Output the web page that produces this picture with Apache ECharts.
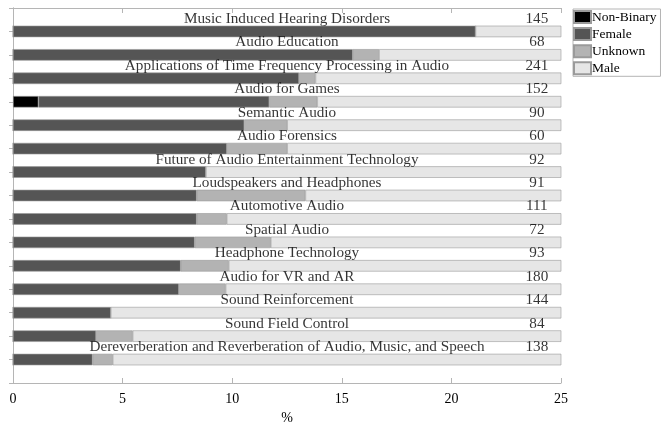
<!DOCTYPE html>
<html><head><meta charset="utf-8">
<script src="https://cdn.jsdelivr.net/npm/echarts@6/dist/echarts.min.js"></script>
<style>html,body{margin:0;padding:0;background:#fff}#c{width:668px;height:423px}</style>
</head><body><div id="c"></div>
<script>
const categories = ['Music Induced Hearing Disorders','Audio Education','Applications of Time Frequency Processing in Audio','Audio for Games','Semantic Audio','Audio Forensics','Future of Audio Entertainment Technology','Loudspeakers and Headphones','Automotive Audio','Spatial Audio','Headphone Technology','Audio for VR and AR','Sound Reinforcement','Sound Field Control','Dereverberation and Reverberation of Audio, Music, and Speech'];
const counts = [145,68,241,152,90,60,92,91,111,72,93,180,144,84,138];
const nonBinary = [0,0,0,1.16,0,0,0,0,0,0,0,0,0,0,0];
const female = [21.1,15.5,13.05,10.53,10.55,9.76,8.8,8.38,8.38,8.29,7.65,7.57,4.46,3.79,3.63];
const unknown = [0,1.2,0.75,2.19,1.96,2.75,0,4.96,1.37,3.47,2.19,2.13,0,1.67,0.92];
const male = [78.9,83.3,86.2,86.12,87.49,87.49,91.2,86.66,90.25,88.24,90.16,90.3,95.54,94.54,95.45];
const xTicks = [0,5,10,15,20,25];

const FONT = 'Liberation Serif';
const pad = a => [null, ...a, null];
const cats = ['', ...categories, ''];
const chart = echarts.init(document.getElementById('c'), null, {renderer:'canvas'});
const frameColor = '#b5b5b5';
const barBorder = '#9a9a9a';
function barSeries(name, data, color){
  return {name, type:'bar', stack:'s', data:pad(data), barWidth:11.5,
    itemStyle:{color, borderColor: barBorder, borderWidth:0.6}, silent:true, animation:false};
}
chart.setOption({
  animation:false,
  textStyle:{fontFamily:FONT},
  grid:{left:13, right:107, top:8, bottom:40, containLabel:false, outerBoundsMode:'none'},
  legend:{
    data:['Non-Binary','Female','Unknown','Male'], orient:'vertical', left:573, top:9,
    itemWidth:17, itemHeight:12, itemGap:3.1, padding:[1,4,1,0],
    textStyle:{fontFamily:FONT, fontSize:13.5, lineHeight:14, color:'#000', padding:[0,0,0,-4]},
    borderColor:'#b5b5b5', borderWidth:1, icon:'rect'
  },
  xAxis:[
    {type:'value', min:0, max:25, interval:5, position:'bottom',
     axisLine:{show:true, lineStyle:{color:frameColor}},
     axisTick:{show:true, inside:true, length:5, lineStyle:{color:frameColor}},
     axisLabel:{color:'#000', fontFamily:FONT, fontSize:14, margin:9},
     splitLine:{show:false},
     name:'%', nameLocation:'middle', nameGap:28, nameTextStyle:{color:'#000', fontFamily:FONT, fontSize:14}},
    {type:'value', min:0, max:25, interval:5, position:'top',
     axisLine:{show:true, lineStyle:{color:frameColor}},
     axisTick:{show:true, inside:true, length:5, lineStyle:{color:frameColor}},
     axisLabel:{show:false}, splitLine:{show:false}}
  ],
  yAxis:[
    {type:'category', data:cats, inverse:true, boundaryGap:false, position:'left',
     axisLine:{show:true, lineStyle:{color:frameColor}},
     axisTick:{show:true, inside:true, length:4, lineStyle:{color:frameColor}},
     axisLabel:{show:false}},
    {type:'category', data:cats, inverse:true, boundaryGap:false, position:'right',
     axisLine:{show:true, lineStyle:{color:frameColor}},
     axisTick:{show:true, inside:true, length:4, lineStyle:{color:frameColor}},
     axisLabel:{show:false}}
  ],
  series:[
    barSeries('Non-Binary', nonBinary, '#000000'),
    barSeries('Female', female, '#555555'),
    barSeries('Unknown', unknown, '#b3b3b3'),
    barSeries('Male', male, '#e6e6e6'),
    {type:'scatter', symbolSize:0, silent:true, z:10,
     data: categories.map((c,i)=>[12.5, i+1, c]),
     label:{show:true, position:'inside', offset:[0,-12.5], formatter:p=>p.data[2],
       color:'#000', fontFamily:FONT, fontSize:15.2}},
    {type:'scatter', symbolSize:0, silent:true, z:10,
     data: counts.map((c,i)=>[23.9, i+1, c]),
     label:{show:true, position:'inside', offset:[0,-12.5], formatter:p=>String(p.data[2]),
       color:'#000', fontFamily:FONT, fontSize:15.2}}
  ]
});
</script></body></html>
